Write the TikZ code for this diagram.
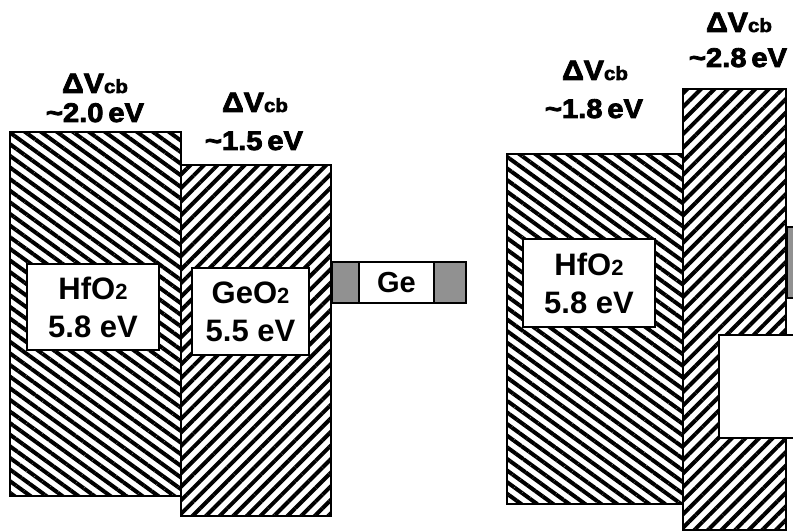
\documentclass[tikz,border=0pt]{standalone}
\usepackage{fontspec}
\setmainfont{Liberation Sans}
\newfontfamily\labfont{Liberation Sans}[FakeStretch=1.08,FakeBold=3]
\usetikzlibrary{patterns.meta}
\definecolor{gegray}{RGB}{145,145,145}
\tikzset{
  hatchnw/.style={draw=black, line width=2.8pt, pattern={Lines[angle=-36,distance=9.4pt,line width=4pt]}},
  hatchne/.style={draw=black, line width=2.8pt, pattern={Lines[angle=45,distance=9.6pt,line width=4pt]}},
  inbox/.style={draw=black, fill=white, line width=2pt, inner sep=0pt, align=center,
     font=\bfseries\fontsize{31}{38}\selectfont},
  gebox/.style={draw=black, fill=gegray, line width=2pt, inner sep=0pt},
  lab/.style={anchor=base, inner sep=0pt, font=\labfont\bfseries\fontsize{27}{27}\selectfont},
}
\newcommand{\dv}{{\fontsize{28}{28}\selectfont Δ{}V}{\fontsize{19}{19}\selectfont cb}}
\newcommand{\subtwo}{{\fontsize{22}{22}\selectfont 2}}
\newcommand{\ev}[1]{\textasciitilde #1\hspace{-0.12em} eV}
\begin{document}
\begin{tikzpicture}[x=1pt,y=1pt]
\useasboundingbox (0,0) rectangle (793,-532);
\clip (0,0) rectangle (793,-532);
% left side
\draw[hatchnw] (10,-132) rectangle (181,-496);
\draw[hatchne] (181,-165) rectangle (331,-516);
% Ge band
\node[gebox, minimum width=134pt, minimum height=41pt, anchor=north west] (geband) at (331,-261) {};
\node[draw=black, fill=white, line width=2pt, minimum width=75pt, minimum height=41pt, anchor=north west, inner sep=0pt,
      font=\bfseries\fontsize{29}{29}\selectfont] (ge) at (358,-261) {Ge};
% inner boxes
\node[inbox, minimum width=132pt, minimum height=86pt] (hfbox1) at (93,-307) {HfO\subtwo\\5.8 eV};
\node[inbox, minimum width=117pt, minimum height=87pt] (gebox1) at (250.5,-311.5) {GeO\subtwo\\5.5 eV};
% labels left
\node[lab] (l1a) at (95,-93) {\dv};
\node[lab] (l1b) at (95,-122) {\ev{2.0}};
\node[lab] (l2a) at (255,-112) {\dv};
\node[lab] (l2b) at (254,-150) {\ev{1.5}};
% right side
\draw[hatchnw] (507,-154) rectangle (683,-504);
\draw[hatchne] (683,-89) rectangle (786,-530);
\node[gebox, minimum width=20pt, minimum height=71pt, anchor=north west] (geband2) at (786,-226) {};
\node[draw=black, fill=white, line width=2pt, minimum width=100pt, minimum height=103pt, anchor=north west, inner sep=0pt] (wbox) at (718,-334) {};
\node[inbox, minimum width=132pt, minimum height=88pt] (hfbox2) at (589,-283) {HfO\subtwo\\5.8 eV};
\node[lab] (l3a) at (595,-80) {\dv};
\node[lab] (l3b) at (594,-118) {\ev{1.8}};
\node[lab] (l4a) at (739,-32) {\dv};
\node[lab] (l4b) at (738,-67) {\ev{2.8}};
\end{tikzpicture}
\end{document}
